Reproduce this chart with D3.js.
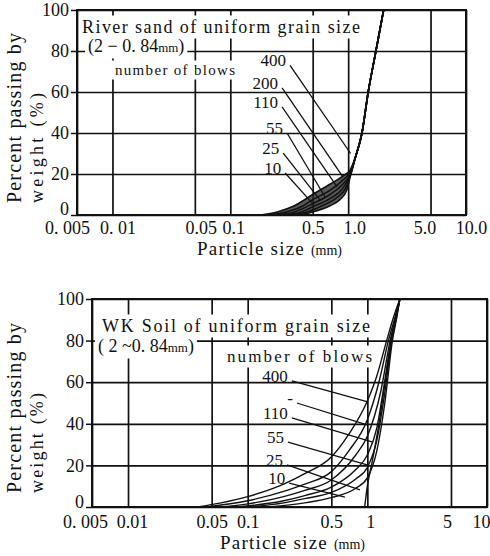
<!DOCTYPE html>
<html>
<head>
<meta charset="utf-8">
<script src="https://cdn.jsdelivr.net/npm/d3@7"></script>
<style>
  body { margin: 0; background: #fff; }
</style>
</head>
<body>
<div class="chart"></div>
<script>
var svgWidth = 490;
var svgHeight = 556;
var FONT = "'Liberation Serif', 'DejaVu Serif', serif";

// axis ticks
var xTicks = [0.005, 0.01, 0.05, 0.1, 0.5, 1, 5, 10];
var xLabelsTop = ["0. 005", "0. 01", "0.05", "0.1", "0.5", "1.0", "5.0", "10.0"];
var xLabelsBottom = ["0. 005", "0.01", "0.05", "0.1", "0.5", "1", "5", "10"];
var yTicks = [0, 20, 40, 60, 80, 100];

// River sand, [particle size (mm), percent passing]
var sand400 = [[0.18, 0], [0.25, 1.5], [0.35, 4.5], [0.5, 10], [0.7, 15], [0.9, 19], [1.04, 22], [1.15, 28], [1.31, 40], [1.48, 60], [1.72, 80], [2.0, 100]];
var sand200 = [[0.21, 0], [0.3, 1.5], [0.4, 4], [0.5, 7.5], [0.7, 12], [0.9, 17], [1.04, 21], [1.15, 28], [1.31, 40], [1.48, 60], [1.72, 80], [2.0, 100]];
var sand110 = [[0.24, 0], [0.35, 1.5], [0.5, 5.5], [0.7, 10], [0.9, 15], [1.04, 20], [1.15, 28], [1.31, 40], [1.48, 60], [1.72, 80], [2.0, 100]];
var sand55 = [[0.28, 0], [0.4, 1.5], [0.5, 4], [0.7, 8], [0.9, 13], [1.04, 19.5], [1.15, 28], [1.31, 40], [1.48, 60], [1.72, 80], [2.0, 100]];
var sand25 = [[0.32, 0], [0.45, 1.5], [0.6, 4.5], [0.8, 8.5], [0.95, 13], [1.04, 19], [1.15, 28], [1.31, 40], [1.48, 60], [1.72, 80], [2.0, 100]];
var sand10 = [[0.38, 0], [0.5, 1.5], [0.7, 4.5], [0.85, 7.5], [0.97, 12], [1.04, 18.5], [1.15, 28], [1.31, 40], [1.48, 60], [1.72, 80], [2.0, 100]];

// WK soil
var wk400 = [[0.038, 0], [0.06, 2], [0.1, 5], [0.2, 11], [0.3, 16], [0.5, 24], [0.7, 35], [1.0, 51], [1.2, 63], [1.45, 80], [1.65, 91], [1.87, 100]];
var wk200 = [[0.045, 0], [0.1, 3], [0.2, 7.5], [0.3, 11], [0.5, 17], [0.7, 27], [1.0, 42], [1.25, 60], [1.5, 80], [1.7, 91], [1.87, 100]];
var wk110 = [[0.06, 0], [0.1, 1.5], [0.2, 5], [0.3, 8], [0.5, 13], [0.8, 25], [1.0, 34], [1.3, 56], [1.55, 80], [1.72, 91], [1.87, 100]];
var wk55 = [[0.08, 0], [0.2, 3], [0.3, 5.5], [0.5, 9.5], [0.8, 18], [1.0, 25], [1.2, 38], [1.35, 55], [1.58, 80], [1.74, 91], [1.87, 100]];
var wk25 = [[0.1, 0], [0.2, 2], [0.3, 4], [0.5, 7], [0.8, 13.5], [1.0, 19], [1.2, 32], [1.4, 55], [1.6, 80], [1.75, 91], [1.87, 100]];
var wk10 = [[0.15, 0], [0.3, 2], [0.5, 4.5], [0.8, 9], [1.0, 14], [1.2, 27], [1.4, 50], [1.62, 80], [1.76, 91], [1.87, 100]];
var wk0 = [[0.95, 0], [1.0, 10], [1.1, 22], [1.25, 40], [1.45, 65], [1.65, 85], [1.87, 100]];

// number-of-blows labels and their leader lines: [label, fromSize, fromPct, toSize, toPct]
var sandLeaders = [
  ["400", 0.321, 73, 1.05, 30],
  ["200", 0.275, 62, 0.905, 18.5],
  ["110", 0.275, 52.7, 0.805, 13.7],
  ["55", 0.303, 40, 0.637, 8.8],
  ["25", 0.281, 30.2, 0.578, 7.3],
  ["10", 0.292, 20.5, 0.494, 5.9]
];
var wkLeaders = [
  ["400", 0.234, 60.6, 1.01, 50.5],
  ["-", 0.258, 50, 1.01, 39.4],
  ["110", 0.234, 42.8, 1.11, 31.2],
  ["55", 0.217, 31.2, 1.03, 20],
  ["25", 0.213, 20.2, 0.867, 8.2],
  ["10", 0.222, 11.5, 0.65, 4.8]
];

var svg = d3.select(".chart")
  .append("svg")
  .attr("width", svgWidth)
  .attr("height", svgHeight)
  .attr("font-family", FONT);

// white box behind a text so the grid does not run through it
function addMask(g, textSel, pad) {
  var b = textSel.node().getBBox();
  g.insert("rect", ":first-child")
    .attr("x", b.x - pad)
    .attr("y", b.y - pad / 2)
    .attr("width", b.width + pad * 2)
    .attr("height", b.height + pad)
    .attr("fill", "#fff");
}

function drawPanel(cfg) {
  var x = d3.scaleLog().domain([0.005, 10]).range([cfg.left, cfg.right]);
  var y = d3.scaleLinear().domain([0, 100]).range([cfg.bottom, cfg.top]);
  var g = svg.append("g");

  // grid
  g.append("g")
    .attr("transform", "translate(0," + cfg.bottom + ")")
    .call(d3.axisBottom(x).tickValues(xTicks).tickSize(-(cfg.bottom - cfg.top)).tickFormat(""))
    .call(function(s) { s.select(".domain").remove(); })
    .selectAll("line").attr("stroke", "#111").attr("stroke-width", 1.7);
  g.append("g")
    .attr("transform", "translate(" + cfg.left + ",0)")
    .call(d3.axisLeft(y).tickValues(yTicks).tickSize(-(cfg.right - cfg.left)).tickFormat(""))
    .call(function(s) { s.select(".domain").remove(); })
    .selectAll("line").attr("stroke", "#111").attr("stroke-width", 1.7);

  // annotation layer (masks go under the text)
  var ann = g.append("g");
  cfg.notes.forEach(function(n) {
    var t = ann.append("text")
      .attr("x", n.x).attr("y", n.y)
      .attr("font-family", FONT)
      .attr("font-size", n.size)
      .attr("fill", "#111");
    t.append("tspan").text(n.text);
    if (n.small) t.append("tspan").attr("font-size", n.size * 0.72).text(n.small);
    if (n.after) t.append("tspan").text(n.after);
    if (n.width) t.attr("textLength", n.width).attr("lengthAdjust", "spacing");
    addMask(ann, t, 3);
  });

  // frame
  g.append("rect")
    .attr("x", cfg.left).attr("y", cfg.top)
    .attr("width", cfg.right - cfg.left).attr("height", cfg.bottom - cfg.top)
    .attr("fill", "none").attr("stroke", "#111").attr("stroke-width", 2);

  // x tick labels
  var xAxis = g.append("g")
    .attr("transform", "translate(0," + cfg.bottom + ")")
    .call(d3.axisBottom(x).tickValues(xTicks).tickSize(0).tickPadding(cfg.xPad)
      .tickFormat(function(d, i) { return cfg.xLabels[i]; }));
  xAxis.select(".domain").remove();
  xAxis.attr("font-family", FONT).attr("font-size", 18);
  xAxis.selectAll("text")
    .attr("fill", "#111")
    .attr("font-family", FONT)
    .attr("dx", function(d, i) { return cfg.xShift[i]; });

  // y ticks + labels (the 0 sits a little above its line)
  var yAxis = g.append("g")
    .attr("transform", "translate(" + cfg.left + ",0)")
    .call(d3.axisLeft(y).tickValues(yTicks).tickSize(6).tickPadding(2));
  yAxis.select(".domain").remove();
  yAxis.attr("font-family", FONT).attr("font-size", 18);
  yAxis.selectAll("line").attr("stroke", "#111").attr("stroke-width", 1.5);
  yAxis.selectAll("text")
    .attr("fill", "#111")
    .attr("font-family", FONT)
    .attr("y", function(d) { return d === 0 ? -cfg.zeroLift : 0; });

  var line = d3.line()
    .x(function(d) { return x(d[0]); })
    .y(function(d) { return y(d[1]); })
    .curve(d3.curveMonotoneX);

  // dense ink where the curves crowd together
  if (cfg.blob) {
    var outer = cfg.blob[0], inner = cfg.blob[1];
    var ring = outer.filter(function(d) { return d[0] <= inner[inner.length - 1][0]; })
      .concat(inner.slice().reverse());
    g.append("path")
      .attr("d", d3.line().x(function(d) { return x(d[0]); }).y(function(d) { return y(d[1]); })(ring) + "Z")
      .attr("fill", "#222")
      .attr("fill-opacity", 0.75);
  }

  // curves
  g.append("g").selectAll("path")
    .data(cfg.series)
    .enter().append("path")
    .attr("d", line)
    .attr("fill", "none")
    .attr("stroke", "#111")
    .attr("stroke-width", cfg.curveWidth);

  // blow-count labels with leaders
  var lead = g.append("g");
  cfg.leaders.forEach(function(d) {
    lead.append("line")
      .attr("x1", x(d[1])).attr("y1", y(d[2]))
      .attr("x2", x(d[3])).attr("y2", y(d[4]))
      .attr("stroke", "#111").attr("stroke-width", 1.3);
    lead.append("text")
      .attr("x", x(d[1]) - 4).attr("y", y(d[2]) + 1)
      .attr("text-anchor", "end")
      .attr("font-family", FONT)
      .attr("font-size", 17)
      .attr("fill", "#111")
      .text(d[0]);
  });

  // axis titles
  g.append("text")
    .attr("transform", "translate(21," + cfg.yTitleStart + ") rotate(-90)")
    .attr("font-family", FONT)
    .attr("font-size", 20).attr("fill", "#111")
    .attr("textLength", 170).attr("lengthAdjust", "spacing")
    .text("Percent passing by");
  g.append("text")
    .attr("transform", "translate(43," + cfg.yTitleStart + ") rotate(-90)")
    .attr("font-family", FONT)
    .attr("font-size", 18).attr("fill", "#111")
    .attr("textLength", cfg.weightLen).attr("lengthAdjust", "spacing")
    .text("weight (%)");

  var xt = g.append("text")
    .attr("x", cfg.xTitleX).attr("y", cfg.xTitleY)
    .attr("font-family", FONT)
    .attr("font-size", 19).attr("fill", "#111")
    .attr("letter-spacing", 1.2);
  xt.append("tspan").text("Particle  size ");
  xt.append("tspan").attr("font-size", 14).attr("letter-spacing", 0).text("(mm)");
}

drawPanel({
  left: 77, right: 466, top: 10, bottom: 215,
  xLabels: xLabelsTop, xPad: 6, zeroLift: 6,
  xShift: [-10, 5, 6, 3, 0, 6, -6, 5],
  series: [sand400, sand200, sand110, sand55, sand25, sand10],
  blob: [sand400, sand10.slice(0, 6)],
  curveWidth: 1.6,
  leaders: sandLeaders,
  notes: [
    { text: "River  sand  of uniform grain  size", x: 82, y: 33, size: 18, width: 278 },
    { text: "(2 \u2212 0. 84", small: "mm", after: ")", x: 88, y: 52, size: 18 },
    { text: "number  of  blows", x: 115, y: 75, size: 15, width: 120 }
  ],
  yTitleStart: 203, weightLen: 110,
  xTitleX: 197, xTitleY: 255
});

drawPanel({
  left: 92, right: 487, top: 299, bottom: 507,
  xLabels: xLabelsBottom, xPad: 8, zeroLift: 5,
  xShift: [-7, 4, 0, 0, 0, 3, -4, -6],
  series: [wk400, wk200, wk110, wk55, wk25, wk10, wk0],
  curveWidth: 1.4,
  leaders: wkLeaders,
  notes: [
    { text: "WK  Soil  of uniform grain  size", x: 102, y: 332, size: 18, width: 268 },
    { text: "( 2 ~0. 84", small: "mm", after: ")", x: 98, y: 352, size: 18 },
    { text: "number  of  blows", x: 227, y: 362, size: 17, width: 145 }
  ],
  yTitleStart: 493, weightLen: 100,
  xTitleX: 220, xTitleY: 549
});
</script>
</body>
</html>
